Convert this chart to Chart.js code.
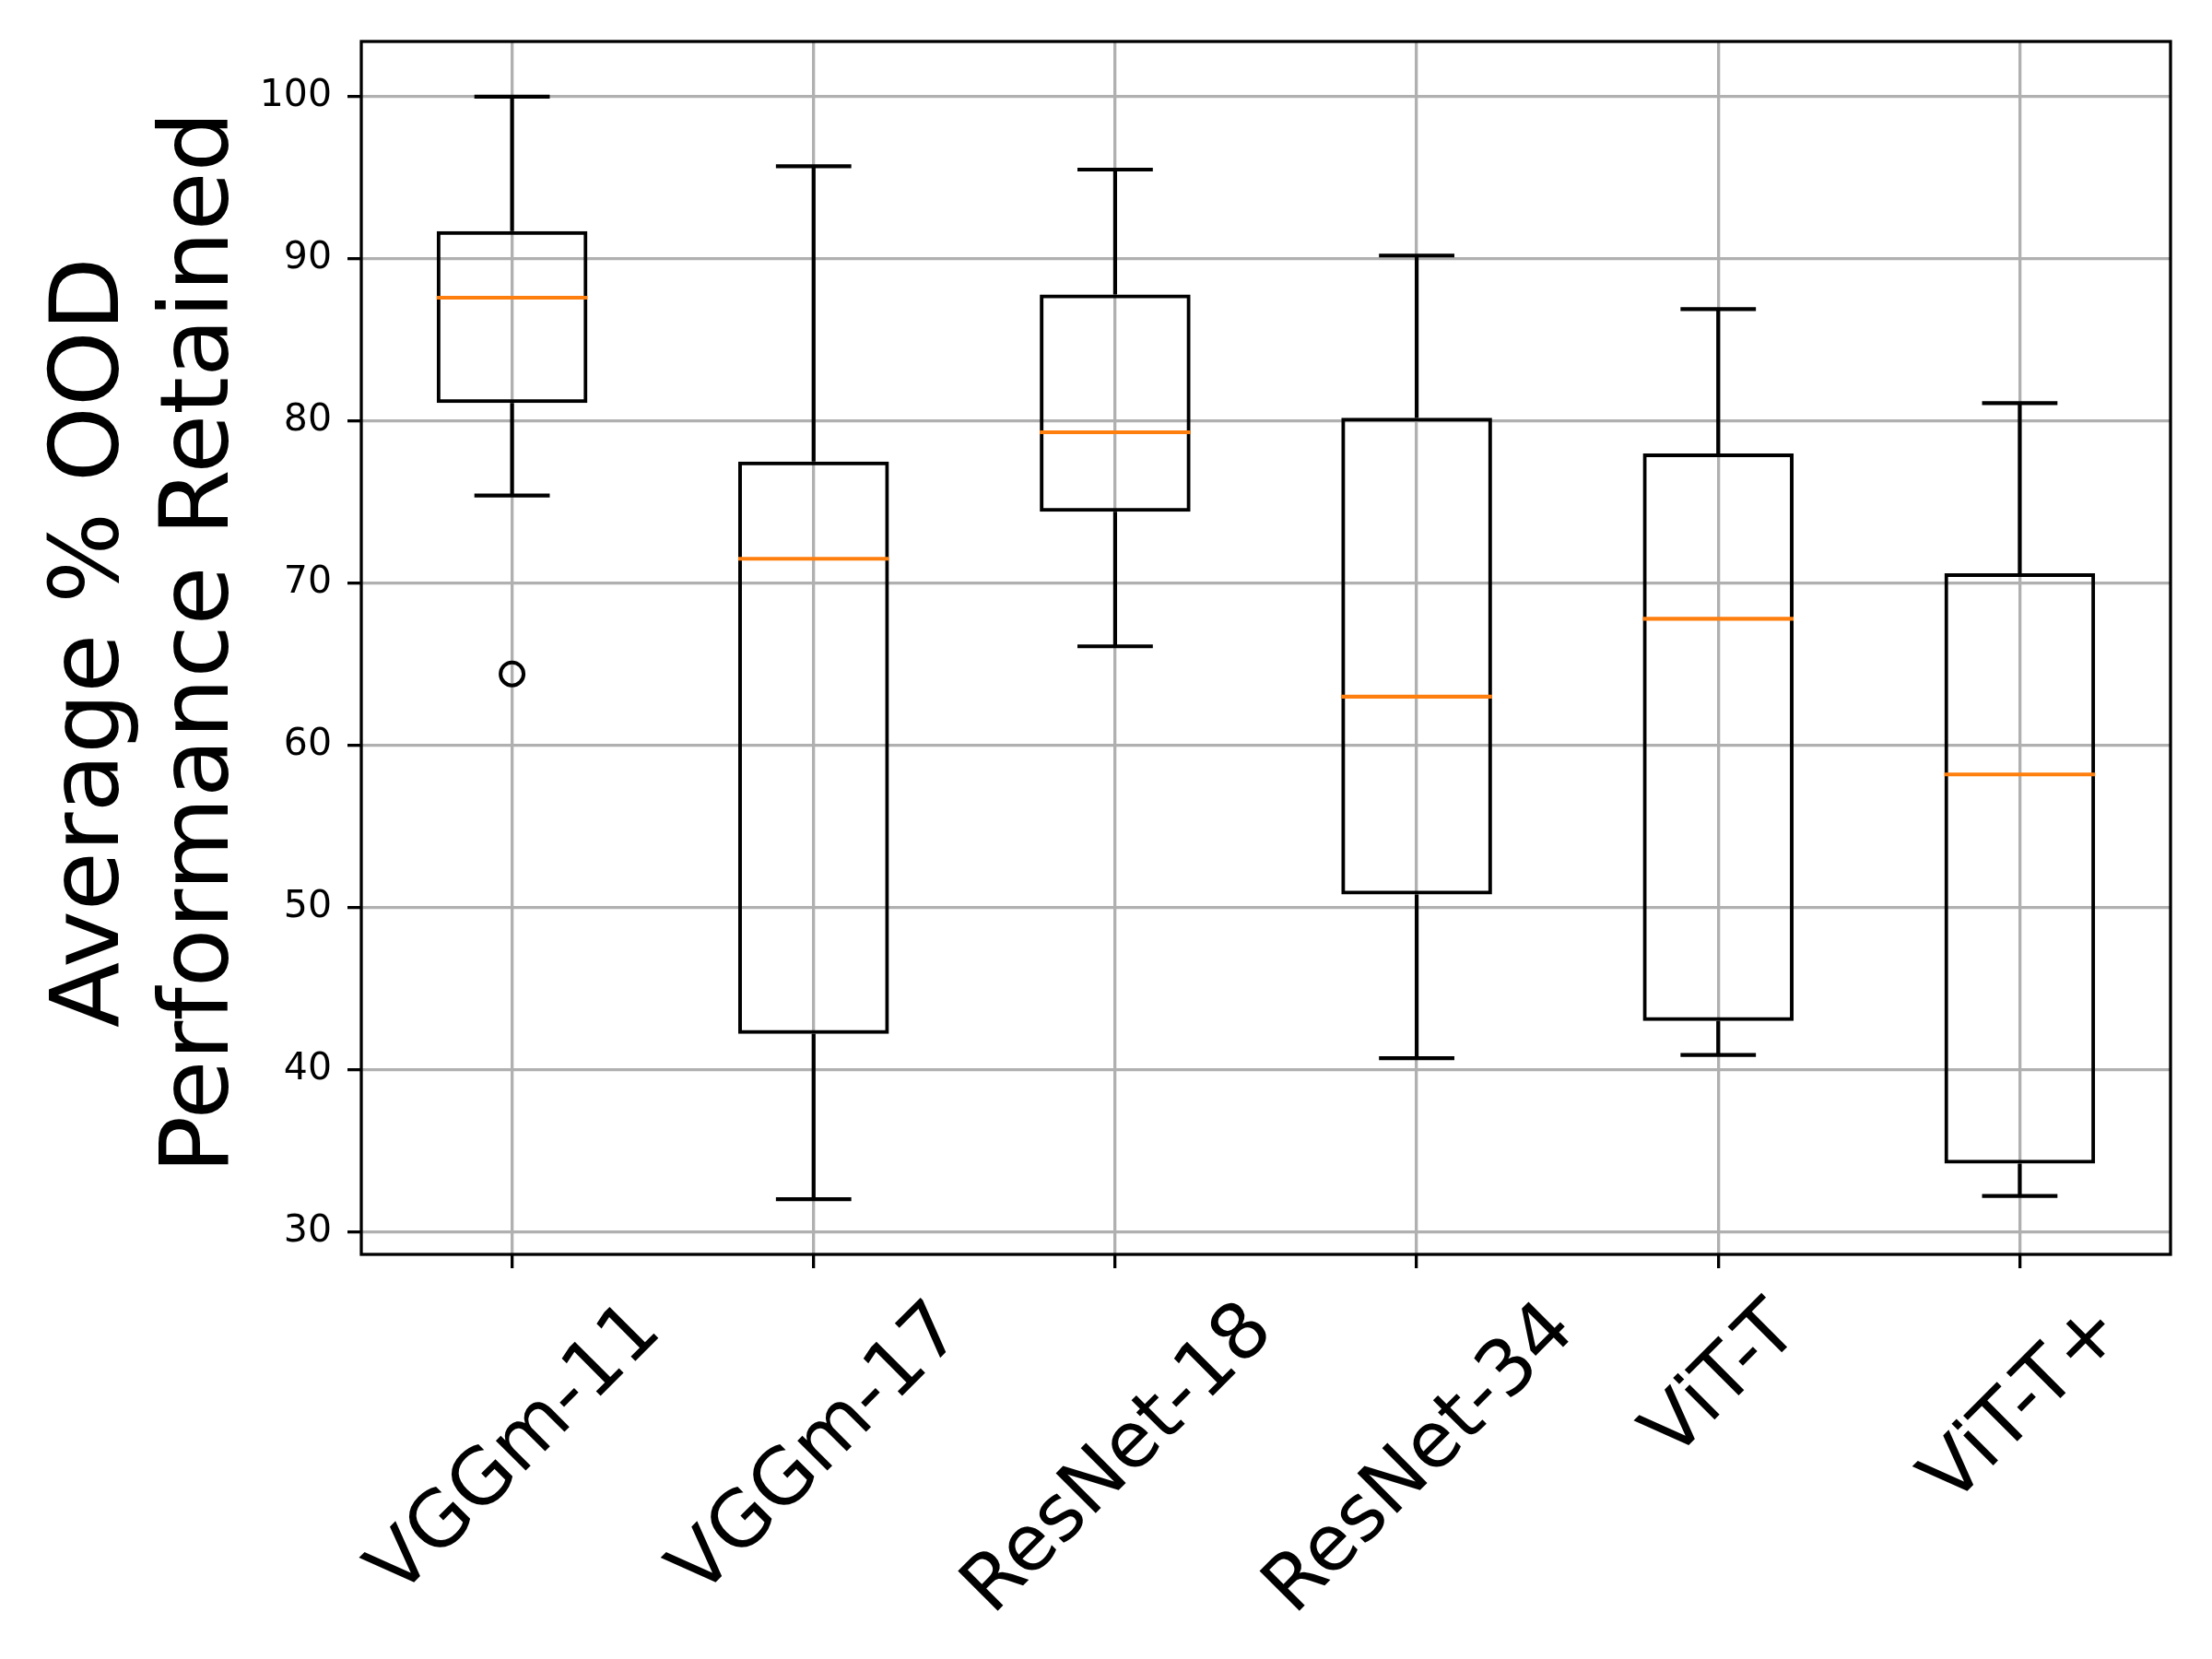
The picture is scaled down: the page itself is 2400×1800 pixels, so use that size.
<!DOCTYPE html>
<html>
<head>
<meta charset="utf-8">
<title>Average % OOD Performance Retained</title>
<script src="https://cdn.jsdelivr.net/npm/chart.js@4.4.1/dist/chart.umd.min.js"></script>
<style>
  html, body { margin: 0; padding: 0; background: #fff; }
  #wrap { width: 2400px; height: 1800px; }
</style>
</head>
<body>
<div id="wrap"><canvas id="boxChart" width="2400" height="1800"></canvas></div>
<script>
// box plot stats
const categories = ['VGGm-11', 'VGGm-17', 'ResNet-18', 'ResNet-34', 'ViT-T', 'ViT-T+'];
const whiskerLow  = [75.4, 32.0, 66.1, 40.7, 40.9, 32.2];
const q1          = [81.1, 42.2, 74.4, 50.8, 43.0, 34.2];
const median      = [87.6, 71.5, 79.3, 63.0, 67.8, 58.2];
const q3          = [91.7, 77.5, 87.8, 80.2, 78.0, 70.6];
const whiskerHigh = [100.0, 95.7, 95.5, 90.2, 86.9, 81.1];
const outliers    = [64.4, null, null, null, null, null];

const yTicks = [30, 40, 50, 60, 70, 80, 90, 100];
const yMin = 28.6;
const yMax = 103.4;
const yTitle = ['Average % OOD', 'Performance Retained'];

const FONT = "'DejaVu Sans', sans-serif";

// whiskers, caps, medians, frame, rotated x labels and the y title
const boxParts = {
    id: 'boxParts',
    afterDatasetsDraw(chart) {
        const { ctx, scales: { x, y } } = chart;
        const boxW = chart.getDatasetMeta(0).data[0].width;
        ctx.save();
        ctx.lineCap = 'butt';
        ctx.lineWidth = 4.2;
        categories.forEach((c, i) => {
            const cx = x.getPixelForValue(i);
            ctx.strokeStyle = '#000';
            ctx.beginPath();
            // whiskers
            ctx.moveTo(cx, y.getPixelForValue(q3[i]));
            ctx.lineTo(cx, y.getPixelForValue(whiskerHigh[i]));
            ctx.moveTo(cx, y.getPixelForValue(q1[i]));
            ctx.lineTo(cx, y.getPixelForValue(whiskerLow[i]));
            // caps
            ctx.moveTo(cx - boxW / 4, y.getPixelForValue(whiskerHigh[i]));
            ctx.lineTo(cx + boxW / 4, y.getPixelForValue(whiskerHigh[i]));
            ctx.moveTo(cx - boxW / 4, y.getPixelForValue(whiskerLow[i]));
            ctx.lineTo(cx + boxW / 4, y.getPixelForValue(whiskerLow[i]));
            ctx.stroke();
            // median
            ctx.strokeStyle = '#ff7f0e';
            ctx.beginPath();
            ctx.moveTo(cx - boxW / 2, y.getPixelForValue(median[i]));
            ctx.lineTo(cx + boxW / 2, y.getPixelForValue(median[i]));
            ctx.stroke();
        });
        ctx.restore();
    },
    afterDraw(chart) {
        const { ctx, chartArea: area, scales: { x } } = chart;
        ctx.save();
        // frame on all four sides
        ctx.strokeStyle = '#000';
        ctx.lineWidth = 3.3;
        ctx.strokeRect(area.left, area.top, area.right - area.left, area.bottom - area.top);

        // x labels, rotated 45deg, bbox centred under the tick
        const fs = 84;
        ctx.font = fs + 'px ' + FONT;
        ctx.fillStyle = '#000';
        ctx.textAlign = 'center';
        ctx.textBaseline = 'alphabetic';
        const top = area.bottom + 15 + 15;
        chart.data.labels.forEach((lab, i) => {
            const w = ctx.measureText(lab).width;
            const h = fs * 1.164;
            const bh = (w + h) * Math.SQRT1_2;
            ctx.save();
            ctx.translate(x.getPixelForValue(i), top + bh / 2);
            ctx.rotate(-Math.PI / 4);
            ctx.fillText(lab, 0, fs * 0.346);
            ctx.restore();
        });

        // y title, two lines
        const ts = 104;
        ctx.font = ts + 'px ' + FONT;
        const cy = (area.top + area.bottom) / 2 - 6;
        const base2 = 247;
        yTitle.forEach((line, k) => {
            const bx = base2 - (yTitle.length - 1 - k) * 119;
            ctx.save();
            ctx.translate(bx, cy);
            ctx.rotate(-Math.PI / 2);
            ctx.fillText(line, 0, 0);
            ctx.restore();
        });
        ctx.restore();
    }
};

const ctx = document.getElementById('boxChart').getContext('2d');
new Chart(ctx, {
    type: 'bar',
    data: {
        labels: categories,
        datasets: [
            {
                type: 'bar',
                label: 'IQR',
                data: q1.map((v, i) => [v, q3[i]]),
                backgroundColor: 'rgba(0,0,0,0)',
                borderColor: '#000',
                borderWidth: 4,
                borderSkipped: false,
                barPercentage: 0.5,
                categoryPercentage: 1.0,
                order: 2
            },
            {
                type: 'line',
                label: 'Outliers',
                data: outliers,
                showLine: false,
                pointStyle: 'circle',
                pointRadius: 12.5,
                pointBorderWidth: 4,
                pointBorderColor: '#000',
                pointBackgroundColor: 'rgba(0,0,0,0)',
                order: 1
            }
        ]
    },
    options: {
        responsive: false,
        devicePixelRatio: 1,
        animation: false,
        layout: { padding: { top: 45, right: 45, bottom: 0, left: 0 } },
        plugins: {
            legend: { display: false },
            tooltip: { enabled: false }
        },
        scales: {
            x: {
                offset: true,
                border: { display: false },
                grid: {
                    offset: false,
                    color: '#b0b0b0',
                    lineWidth: 3.3,
                    tickLength: 15,
                    tickColor: '#000',
                    tickWidth: 3.3
                },
                ticks: { display: false },
                afterFit: (s) => { s.height = 439; }
            },
            y: {
                min: yMin,
                max: yMax,
                border: { display: false },
                afterBuildTicks: (s) => { s.ticks = yTicks.map(v => ({ value: v })); },
                afterFit: (s) => { s.width = 392; },
                grid: {
                    color: '#b0b0b0',
                    lineWidth: 3.3,
                    tickLength: 15,
                    tickColor: '#000',
                    tickWidth: 3.3
                },
                ticks: {
                    color: '#000',
                    padding: 17,
                    font: { family: FONT, size: 41 }
                }
            }
        }
    },
    plugins: [boxParts]
});
</script>
</body>
</html>
